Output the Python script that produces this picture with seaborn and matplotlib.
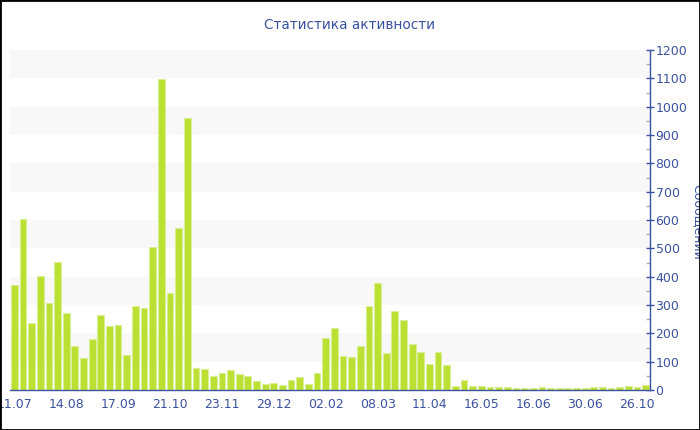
import matplotlib
matplotlib.use('Agg')
import matplotlib.pyplot as plt
import seaborn as sns
import pandas as pd
from matplotlib.patches import Rectangle

# weekly message counts
messages = [370, 602, 235, 402, 307, 451, 271, 155, 113, 180,
            265, 227, 229, 122, 295, 288, 506, 1096, 342, 573,
            959, 78, 73, 48, 59, 69, 56, 51, 32, 21,
            25, 18, 34, 45, 22, 61, 183, 218, 119, 116,
            155, 298, 379, 129, 279, 246, 162, 135, 93, 134,
            89, 13, 35, 14, 14, 11, 9, 9, 8, 7,
            6, 12, 8, 7, 7, 8, 6, 10, 10, 6,
            12, 14, 9, 17]
tick_labels = ['11.07', '14.08', '17.09', '21.10', '23.11', '29.12', '02.02',
               '08.03', '11.04', '16.05', '16.06', '30.06', '26.10']
tick_every = 6

title = 'Статистика активности'
ylabel = 'Сообщений'

blue = '#3b539f'
bar_color = '#bce031'
bar_edge = '#d9ee95'

sns.set_style('white')
plt.rcParams['font.family'] = ['DejaVu Sans']

df = pd.DataFrame({'week': range(len(messages)), 'count': messages})

fig = plt.figure(figsize=(7, 4.3), dpi=100)
ax = fig.add_axes([10 / 700, 1 - 390 / 430, 640 / 700, 340 / 430])

# alternating light bands
for lo in range(100, 1200, 200):
    ax.axhspan(lo, lo + 100, color='#f8f8f8', zorder=0, lw=0)

sns.barplot(data=df, x='week', y='count', color=bar_color, saturation=1,
            width=0.78, edgecolor=bar_edge, linewidth=0.8, ax=ax, zorder=2)

ax.set_ylim(0, 1200)
ax.set_xlim(-0.5, len(messages) - 0.5)
ax.yaxis.tick_right()
ax.set_yticks(range(0, 1201, 100))
ax.set_yticks(range(50, 1200, 100), minor=True)
ax.tick_params(axis='y', which='major', direction='inout', length=6, width=1,
               colors=blue, labelsize=9, pad=1, right=True, left=False)
ax.tick_params(axis='y', which='minor', direction='in', length=3, width=1,
               colors='#aaaaaa', right=True, left=False)
ax.set_xticks(range(0, len(messages), tick_every))
ax.set_xticklabels(tick_labels)
ax.tick_params(axis='x', direction='out', length=4, width=1, colors=blue,
               labelsize=9, pad=2)
ax.set_xlabel('')
ax.set_ylabel('')

for side in ['top', 'left']:
    ax.spines[side].set_visible(False)
for side in ['bottom', 'right']:
    ax.spines[side].set_color(blue)
    ax.spines[side].set_linewidth(1)

fig.text(0.5, 1 - 25 / 430, title, ha='center', va='center', fontsize=9.8, color=blue)
fig.text(0.996, 1 - 222 / 430, ylabel, ha='center', va='center', rotation=270,
         fontsize=9, color=blue)

fig.patches.append(Rectangle((0, 0), 1, 1, transform=fig.transFigure, fill=False,
                             edgecolor='black', linewidth=2, zorder=10))

fig.savefig('out.png', dpi=100)
